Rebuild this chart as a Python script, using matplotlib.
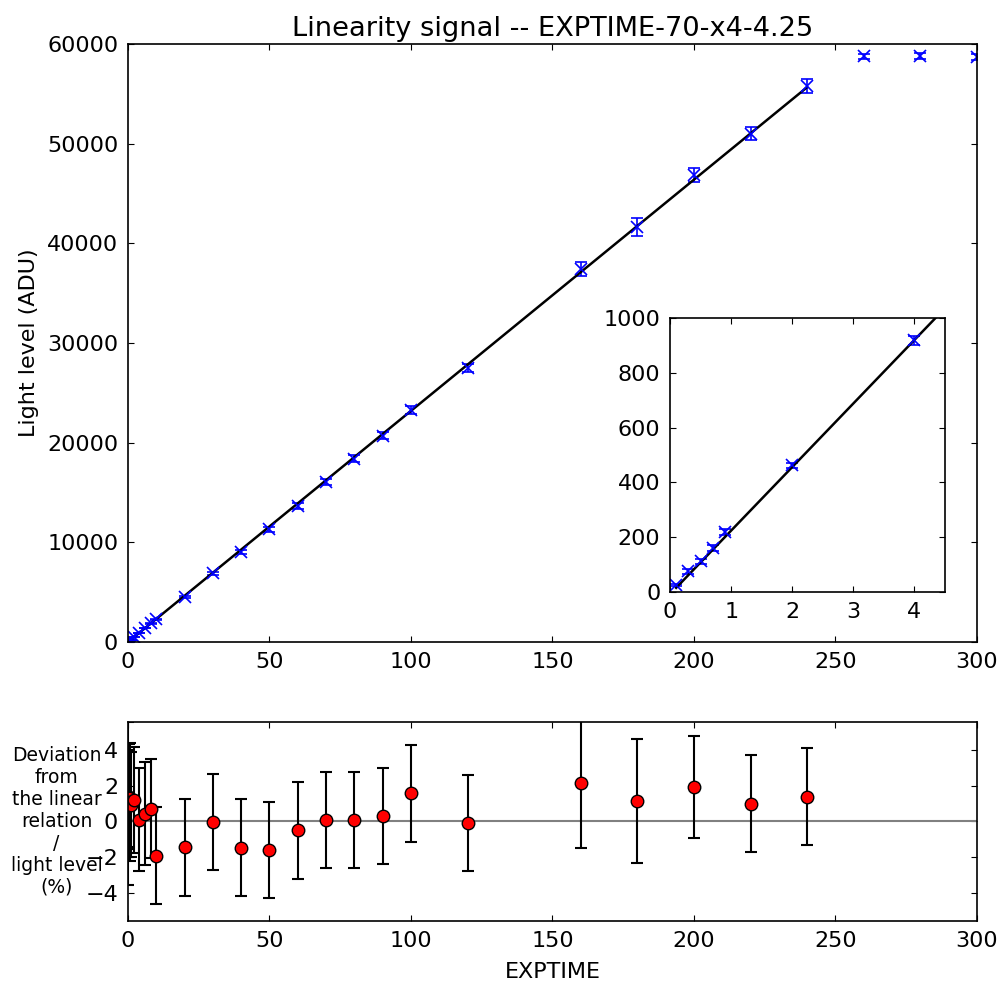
import numpy as np
import matplotlib
matplotlib.use("Agg")
import matplotlib.pyplot as plt

# exposure times and measured light levels
exptime = [0.1, 0.3, 0.5, 0.7, 0.9, 2, 4, 6, 8, 10, 20, 30, 40, 50, 60, 70, 80, 90,
           100, 120, 160, 180, 200, 220, 240, 260, 280, 300]
level = [25, 75, 112, 160, 218, 462, 918, 1390, 1860, 2290, 4500, 6880, 9050, 11300,
         13650, 16100, 18400, 20700, 23300, 27500, 37400, 41600, 46850, 50980, 55750,
         58750, 58800, 58700]
level_err = [5, 8, 9, 10, 11, 10, 18, 30, 40, 50, 90, 140, 180, 220, 260, 300, 330,
             350, 380, 420, 700, 900, 700, 650, 700, 300, 300, 300]

# linear fit range and parameters
fit_range = (0.1, 240)
fit_slope = 232.0
fit_intercept = -8.0

# deviation from linear relation (%)
dev_x = [0.1, 0.3, 0.5, 0.7, 0.9, 2, 4, 6, 8, 10, 20, 30, 40, 50, 60, 70, 80, 90,
         100, 120, 160, 180, 200, 220, 240]
dev = [1.0, 1.4, 1.3, 1.1, 0.95, 1.2, 0.1, 0.43, 0.73, -1.92, -1.45, -0.05, -1.48,
       -1.62, -0.5, 0.1, 0.1, 0.3, 1.6, -0.1, 2.18, 1.15, 1.92, 1.0, 1.39]
dev_err = [4.6, 2.95, 2.75, 3.3, 2.95, 3.0, 2.9, 2.9, 2.8, 2.75, 2.72, 2.7, 2.72,
           2.7, 2.72, 2.7, 2.7, 2.72, 2.73, 2.7, 3.66, 3.47, 2.87, 2.73, 2.72]

plt.rcParams['font.family'] = ['DejaVu Sans']
plt.rcParams['font.size'] = 16
plt.rcParams['xtick.direction'] = 'in'
plt.rcParams['ytick.direction'] = 'in'
plt.rcParams['xtick.top'] = True
plt.rcParams['ytick.right'] = True
plt.rcParams['xtick.major.size'] = 4
plt.rcParams['ytick.major.size'] = 4
plt.rcParams['xtick.major.pad'] = 7
plt.rcParams['ytick.major.pad'] = 7
plt.rcParams['axes.linewidth'] = 1.2

fig = plt.figure(figsize=(10.02, 9.83), dpi=100)
ax = fig.add_axes([0.1277, 0.3469, 0.8473, 0.6083])
ax_in = fig.add_axes([0.6687, 0.3978, 0.2744, 0.2787])
ax_dev = fig.add_axes([0.1277, 0.0631, 0.8473, 0.2024])

fit_x = np.array([fit_range[0], fit_range[1]])
fit_y = fit_slope * fit_x + fit_intercept

for a in (ax, ax_in):
    a.errorbar(exptime, level, yerr=level_err, fmt='x', color='b', ms=8, mew=1.2,
               capsize=4, elinewidth=1.2, capthick=1.2)
    a.plot(fit_x, fit_y, color='k', lw=1.8)

ax.set_xlim(0, 300)
ax.set_ylim(0, 60000)
ax.set_xticks(np.arange(0, 301, 50))
ax.set_yticks(np.arange(0, 60001, 10000))
ax.set_ylabel('Light level (ADU)', labelpad=6)
ax.set_title('Linearity signal -- EXPTIME-70-x4-4.25', fontsize=19.6, pad=6)

ax_in.set_xlim(0, 4.5)
ax_in.set_ylim(0, 1000)
ax_in.set_xticks([0, 1, 2, 3, 4])
ax_in.set_yticks(np.arange(0, 1001, 200))

ax_dev.axhline(0, color='gray', lw=1.5)
ax_dev.errorbar(dev_x, dev, yerr=dev_err, fmt='o', color='k', mfc='r', mec='k',
                ms=9, capsize=4, elinewidth=1.5, capthick=1.5)
ax_dev.set_xlim(0, 300)
ax_dev.set_ylim(-5.6, 5.6)
ax_dev.set_xticks(np.arange(0, 301, 50))
ax_dev.set_yticks([-4, -2, 0, 2, 4])
ax_dev.set_xlabel('EXPTIME', labelpad=8)
ax_dev.set_ylabel('Deviation\nfrom\nthe linear\nrelation\n/\nlight level\n(%)',
                  rotation=0, fontsize=13.5, ha='center', va='center')
ax_dev.yaxis.set_label_coords(-0.084, 0.5)

fig.savefig('out.png', dpi=100)
